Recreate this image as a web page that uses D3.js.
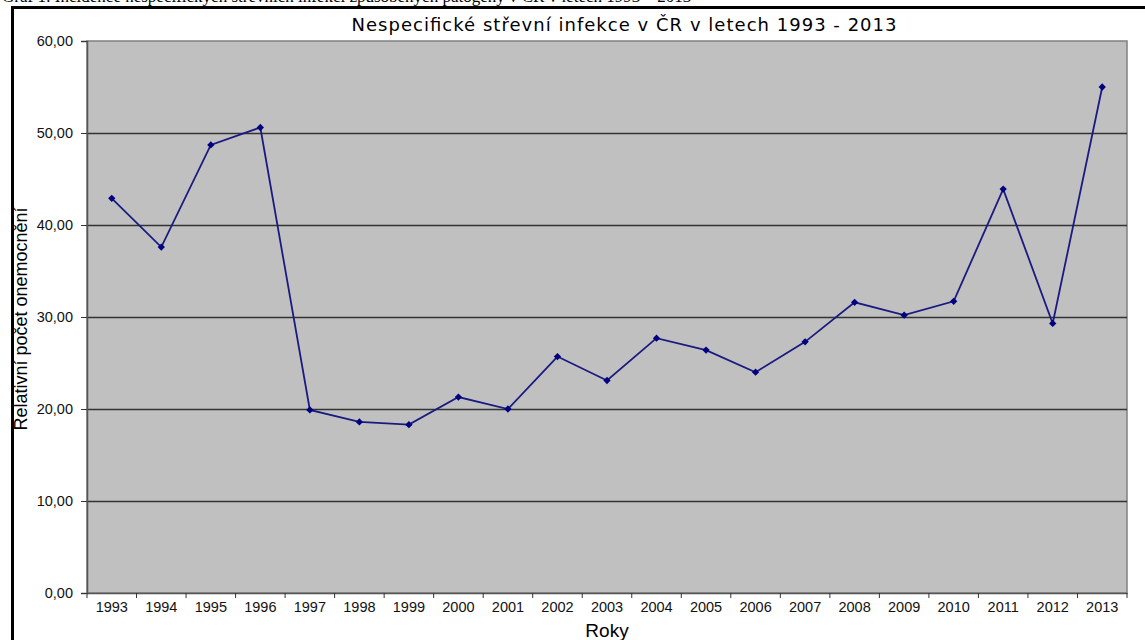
<!DOCTYPE html>
<html>
<head>
<meta charset="utf-8">
<script src="https://cdn.jsdelivr.net/npm/d3@7"></script>
<style>
  body { margin: 0; background: #fff; }
  svg { display: block; }
</style>
</head>
<body>
<div id="chart"></div>
<script>
const years = ["1993", "1994", "1995", "1996", "1997", "1998", "1999", "2000", "2001", "2002", "2003",
               "2004", "2005", "2006", "2007", "2008", "2009", "2010", "2011", "2012", "2013"];
const values = [42.9, 37.6, 48.7, 50.6, 19.9, 18.6, 18.3, 21.3, 20.0, 25.7, 23.1,
                27.7, 26.4, 24.0, 27.3, 31.6, 30.2, 31.7, 43.9, 29.3, 55.0];
const yTicks = [0, 10, 20, 30, 40, 50, 60];

const chartTitle = "Nespecifické střevní infekce v ČR v letech 1993 - 2013";
const captionText = "Graf 1: Incidence nespecifických střevních infekcí způsobených patogeny v ČR v letech 1993 – 2013";

var width = 1145,
    height = 640;

var margin = {top: 41, right: 18, bottom: 47, left: 87};

var svg = d3.select("#chart").append("svg")
    .attr("width", width)
    .attr("height", height);

// caption line above the frame, cropped in the source
svg.append("text")
    .attr("x", 2)
    .attr("y", 2)
    .style("font-family", "'Liberation Serif', serif")
    .style("font-size", "17px")
    .text(captionText);

// outer frame (left + top)
svg.append("path")
    .attr("d", `M12.5,${height} L12.5,7.5 L${width},7.5`)
    .attr("fill", "none")
    .attr("stroke", "#000")
    .attr("stroke-width", 3);

const x = d3.scaleBand()
    .domain(years)
    .range([margin.left, width - margin.right]);

const y = d3.scaleLinear()
    .domain([0, 60])
    .range([height - margin.bottom, margin.top]);

// plot background
svg.append("rect")
    .attr("x", margin.left)
    .attr("y", margin.top)
    .attr("width", width - margin.right - margin.left)
    .attr("height", height - margin.bottom - margin.top)
    .attr("fill", "#c0c0c0")
    .attr("stroke", "#808080")
    .attr("stroke-width", 1.5);

// gridlines
svg.append("g")
    .attr("stroke", "#333")
    .attr("stroke-width", 1.3)
  .selectAll("line")
  .data(yTicks.filter(d => d > 0 && d < 60))
  .join("line")
    .attr("x1", margin.left)
    .attr("x2", width - margin.right)
    .attr("y1", d => Math.round(y(d)) + 0.5)
    .attr("y2", d => Math.round(y(d)) + 0.5);

// y axis
const yAxis = svg.append("g")
    .attr("transform", `translate(${margin.left},0)`)
    .call(d3.axisLeft(y)
        .tickValues(yTicks)
        .tickSize(6)
        .tickPadding(8)
        .tickFormat(d => d3.format(".2f")(d).replace(".", ",")));

// x axis, ticks between categories
const xAxis = svg.append("g")
    .attr("transform", `translate(0,${height - margin.bottom})`)
    .call(d3.axisBottom(x).tickSize(0).tickPadding(9));

xAxis.append("g")
  .selectAll("line")
  .data(years.concat(["end"]))
  .join("line")
    .attr("x1", (d, i) => margin.left + i * x.step())
    .attr("x2", (d, i) => margin.left + i * x.step())
    .attr("y1", 0)
    .attr("y2", 5)
    .attr("stroke", "#333");

[yAxis, xAxis].forEach(g => {
  g.select(".domain").attr("stroke", "#555").attr("stroke-width", 1.5);
  g.selectAll(".tick line").attr("stroke", "#333");
  g.selectAll("text")
      .attr("fill", "#111")
      .style("font-family", "'Liberation Sans', Arial, sans-serif")
      .style("font-size", "14.5px");
});

// line
const line = d3.line()
    .x((d, i) => x(years[i]) + x.bandwidth() / 2)
    .y(d => y(d));

svg.append("path")
    .datum(values)
    .attr("fill", "none")
    .attr("stroke", "#1a1a80")
    .attr("stroke-width", 1.8)
    .attr("d", line);

svg.append("g")
  .selectAll("path")
  .data(values)
  .join("path")
    .attr("transform", (d, i) => `translate(${x(years[i]) + x.bandwidth() / 2},${y(d)})`)
    .attr("d", d3.symbol(d3.symbolDiamond2, 34))
    .attr("fill", "#000080");

// title
svg.append("text")
    .attr("x", 624)
    .attr("y", 31)
    .attr("text-anchor", "middle")
    .attr("textLength", 545)
    .attr("lengthAdjust", "spacing")
    .style("font-family", "'DejaVu Sans', Verdana, sans-serif")
    .style("font-size", "18px")
    .text(chartTitle);

// axis titles
svg.append("text")
    .attr("transform", "translate(27,319) rotate(-90)")
    .attr("text-anchor", "middle")
    .style("font-family", "'Liberation Sans', Arial, sans-serif")
    .style("font-size", "18px")
    .text("Relativní počet onemocnění");

svg.append("text")
    .attr("x", 607)
    .attr("y", 637)
    .attr("text-anchor", "middle")
    .style("font-family", "'Liberation Sans', Arial, sans-serif")
    .style("font-size", "19px")
    .text("Roky");
</script>
</body>
</html>
